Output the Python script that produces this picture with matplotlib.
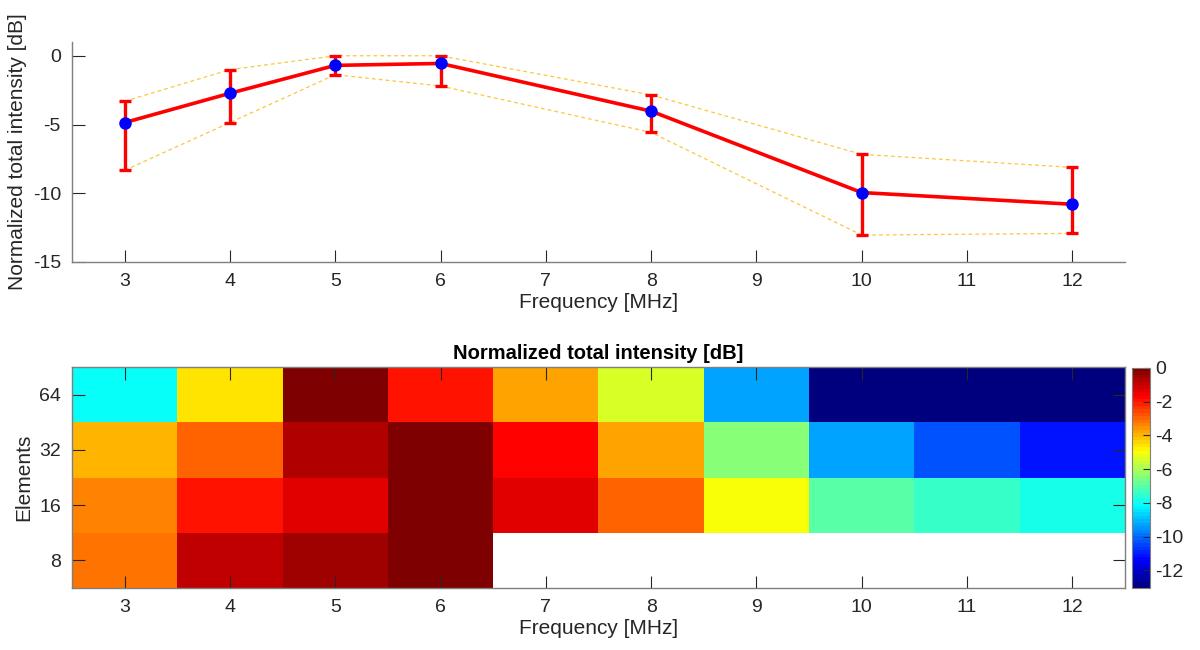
import numpy as np
import matplotlib
matplotlib.use("Agg")
import matplotlib.pyplot as plt
from matplotlib.colors import LinearSegmentedColormap

plt.rcParams['font.family'] = ['Liberation Sans', 'DejaVu Sans']
plt.rcParams['axes.unicode_minus'] = False

# ---- data ----
freq = [3, 4, 5, 6, 8, 10, 12]
mean_db = [-4.86, -2.73, -0.70, -0.56, -4.03, -9.95, -10.80]
upper_db = [-3.31, -1.01, 0.0, 0.0, -2.85, -7.17, -8.12]
lower_db = [-8.33, -4.86, -1.38, -2.20, -5.58, -13.04, -12.92]

heat_freq = [3, 4, 5, 6, 7, 8, 9, 10, 11, 12]
elements = ['8', '16', '32', '64']
row_8 = [-3.25, -0.98, -0.55, 0.0, np.nan, np.nan, np.nan, np.nan, np.nan, np.nan]
row_16 = [-3.35, -2.0, -1.24, 0.0, -1.3, -2.86, -4.9, -7.05, -7.5, -7.9]
row_32 = [-4.0, -2.86, -0.62, 0.0, -1.82, -3.67, -6.5, -9.33, -10.37, -11.15]
row_64 = [-8.1, -4.65, 0.0, -2.0, -3.8, -5.46, -9.2, -13.04, -13.0, -13.02]
cbar_ticks = [0, -2, -4, -6, -8, -10, -12]

axis_color = '#7f7f7f'
text_color = '#262626'

# MATLAB-style jet colormap
_jet = {
    'red':   [(0, 0, 0), (3 / 8, 0, 0), (5 / 8, 1, 1), (7 / 8, 1, 1), (1, 0.5, 0.5)],
    'green': [(0, 0, 0), (1 / 8, 0, 0), (3 / 8, 1, 1), (5 / 8, 1, 1), (7 / 8, 0, 0), (1, 0, 0)],
    'blue':  [(0, 0.5, 0.5), (1 / 8, 1, 1), (3 / 8, 1, 1), (5 / 8, 0, 0), (1, 0, 0)],
}
cmap = LinearSegmentedColormap('matlab_jet', _jet, N=64)
cmap.set_bad('white')

fig = plt.figure(figsize=(12, 6.5), dpi=100)
W, H = 1200, 650

def px_axes(l, t, r, b):
    return fig.add_axes([l / W, 1 - b / H, (r - l) / W, (b - t) / H])

# ---- top line chart ----
ax1 = px_axes(72, 42, 1125, 262)
x = np.array(freq, dtype=float)
m = np.array(mean_db)
up = np.array(upper_db)
lo = np.array(lower_db)
ax1.plot(x, up, color='#FBC73A', lw=0.9, ls=(0, (3, 2.5)), zorder=1)
ax1.plot(x, lo, color='#FBC73A', lw=0.9, ls=(0, (3, 2.5)), zorder=1)
ax1.errorbar(x, m, yerr=[m - lo, up - m], color='#FF0000', lw=2.6,
             elinewidth=2.4, capsize=4.5, capthick=2.4, zorder=2)
ax1.plot(x, m, 'o', color='#0000FF', ms=8, zorder=3)
ax1.set_xlim(2.5, 12.5)
ax1.set_ylim(-15, 1)
ax1.set_xticks(range(3, 13))
ax1.set_yticks([-15, -10, -5, 0])
ax1.spines['top'].set_visible(False)
ax1.spines['right'].set_visible(False)
for s in ['left', 'bottom']:
    ax1.spines[s].set_color(axis_color)
    ax1.spines[s].set_linewidth(1.0)
ax1.tick_params(direction='in', length=9, width=0.8, color=text_color,
                labelsize=14, labelcolor=text_color, pad=8)
ax1.set_xlabel('Frequency [MHz]', fontsize=15, color=text_color, labelpad=2)
ax1.set_ylabel('Normalized total intensity [dB]', fontsize=15, color=text_color, labelpad=4)

# ---- bottom heatmap ----
ax2 = px_axes(72, 367, 1125, 588)
data = np.array([row_8, row_16, row_32, row_64])
masked = np.ma.masked_invalid(data)
vmin = np.nanmin(data)
vmax = np.nanmax(data)
im = ax2.imshow(masked, cmap=cmap, vmin=vmin, vmax=vmax, origin='lower',
                aspect='auto', interpolation='nearest',
                extent=[heat_freq[0] - 0.5, heat_freq[-1] + 0.5, 0.5, len(elements) + 0.5])
ax2.set_xticks(heat_freq)
ax2.set_yticks(range(1, len(elements) + 1))
ax2.set_yticklabels(elements)
for s in ax2.spines.values():
    s.set_color(axis_color)
    s.set_linewidth(1.0)
ax2.tick_params(direction='in', length=9, width=0.8, color=text_color,
                labelsize=14, labelcolor=text_color, pad=8,
                top=True, right=True)
ax2.set_xlabel('Frequency [MHz]', fontsize=15, color=text_color, labelpad=2)
ax2.set_ylabel('Elements', fontsize=15, color=text_color, labelpad=4)
ax2.set_title('Normalized total intensity [dB]', fontsize=14.5, fontweight='bold',
              color='black', pad=6)

cax = px_axes(1132, 368, 1150, 588)
cb = fig.colorbar(im, cax=cax)
cb.set_ticks(cbar_ticks)
cb.outline.set_edgecolor(axis_color)
cb.ax.tick_params(direction='in', length=5, width=0.8, color=text_color,
                  labelsize=14, labelcolor=text_color, pad=4)

fig.savefig('out.png', dpi=100)
